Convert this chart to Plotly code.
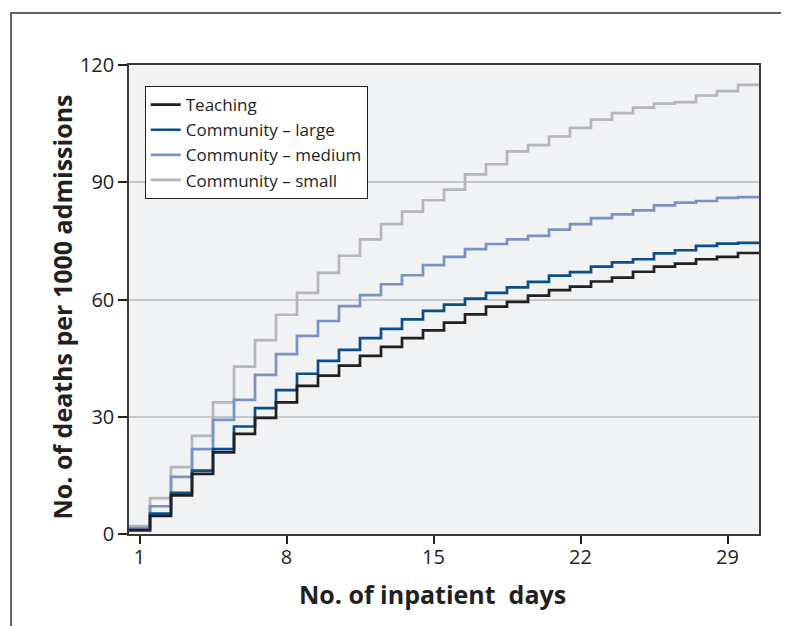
import plotly.graph_objects as go

days = list(range(1, 31))
teaching = [1.0, 4.6, 9.9, 15.4, 20.9, 25.6, 29.7, 33.7, 37.9, 40.5, 43.1, 45.6, 47.9, 50.1, 52.1,
            54.1, 56.2, 58.2, 59.4, 61.0, 62.4, 63.3, 64.6, 65.6, 67.1, 68.4, 69.2, 70.3, 70.9, 71.9]
comm_large = [1.0, 5.2, 10.5, 16.2, 21.7, 27.5, 32.2, 36.8, 41.0, 44.3, 47.1, 50.1, 52.5, 54.9, 57.1,
              58.7, 60.2, 61.7, 63.1, 64.5, 66.1, 67.0, 68.4, 69.5, 70.3, 71.8, 72.6, 73.7, 74.3, 74.5]
comm_medium = [1.5, 7.1, 14.6, 21.7, 29.2, 34.3, 40.7, 46.0, 50.7, 54.5, 58.3, 61.1, 63.9, 66.2, 68.8,
               70.9, 72.9, 74.2, 75.4, 76.3, 77.9, 79.3, 80.8, 81.8, 82.8, 84.1, 84.8, 85.2, 86.0, 86.2]
comm_small = [2.0, 9.2, 17.1, 25.1, 33.7, 42.8, 49.6, 56.1, 61.7, 66.8, 71.2, 75.4, 79.3, 82.5, 85.4,
              88.1, 92.0, 94.6, 97.9, 99.5, 101.7, 103.9, 106.0, 107.7, 109.1, 110.1, 110.5, 112.2, 113.3, 114.9]

series_names = ["Teaching", "Community \u2013 large", "Community \u2013 medium", "Community \u2013 small"]
series_values = [teaching, comm_large, comm_medium, comm_small]
colors = ["#231f20", "#0a4f8c", "#7b93c4", "#b5b6b8"]

x_ticks = [1, 8, 15, 22, 29]
y_ticks = [0, 30, 60, 90, 120]
x_title = "No. of inpatient  days"
y_title = "No. of deaths per 1000 admissions"

# each day's value spans [day-0.5, day+0.5]
x_edges = [d - 0.5 for d in days] + [days[-1] + 0.5]

fig = go.Figure()
# draw lighter series first so darker ones sit on top
for name, vals, col in reversed(list(zip(series_names, series_values, colors))):
    fig.add_trace(go.Scatter(
        x=x_edges, y=vals + [vals[-1]], mode="lines", name=name,
        line=dict(color=col, width=2.7, shape="hv"),
    ))

font_family = "Open Sans, Noto Sans, DejaVu Sans, sans-serif"

fig.update_layout(
    width=789, height=626,
    margin=dict(l=121, r=38, t=57, b=100),
    paper_bgcolor="white",
    plot_bgcolor="#f1f2f4",
    font=dict(family=font_family, size=20, color="#231f20"),
    showlegend=True,
    legend=dict(
        x=0.025, y=0.955, xanchor="left", yanchor="top",
        bgcolor="white", bordercolor="#231f20", borderwidth=1,
        font=dict(size=17, color="#231f20"),
        traceorder="reversed",
        itemwidth=30,
        tracegroupgap=0,
    ),
    xaxis=dict(
        range=[0.5, 30.5], tickvals=x_ticks, ticktext=[str(t) for t in x_ticks],
        ticks="outside", ticklen=8, tickwidth=2, tickcolor="#231f20",
        ticklabelstandoff=-4,
        showline=True, linecolor="#3a3a3a", linewidth=1.5, mirror=True,
        showgrid=False, zeroline=False,
    ),
    yaxis=dict(
        range=[0, 120], tickvals=y_ticks,
        ticks="outside", ticklen=9, tickwidth=2, tickcolor="#231f20",
        showline=True, linecolor="#3a3a3a", linewidth=1.5, mirror=True,
        showgrid=True, gridcolor="#c6c7c9", gridwidth=2, zeroline=False,
    ),
    annotations=[
        dict(text="<b>" + x_title + "</b>", xref="paper", yref="paper",
             x=0.4825, y=-0.128, xanchor="center", yanchor="middle",
             showarrow=False, font=dict(size=25, color="#231f20")),
        dict(text="<b>" + y_title + "</b>", xref="paper", yref="paper",
             x=-0.1063, y=0.483, xanchor="center", yanchor="middle", textangle=-90,
             showarrow=False, font=dict(size=25, color="#231f20")),
    ],
    shapes=[dict(
        type="rect", xref="paper", yref="paper",
        x0=-0.1873, x1=1.1, y0=-0.3, y1=1.111,
        line=dict(color="#666666", width=2), fillcolor="rgba(0,0,0,0)", layer="below",
    )],
)

fig.write_html("out.html")
